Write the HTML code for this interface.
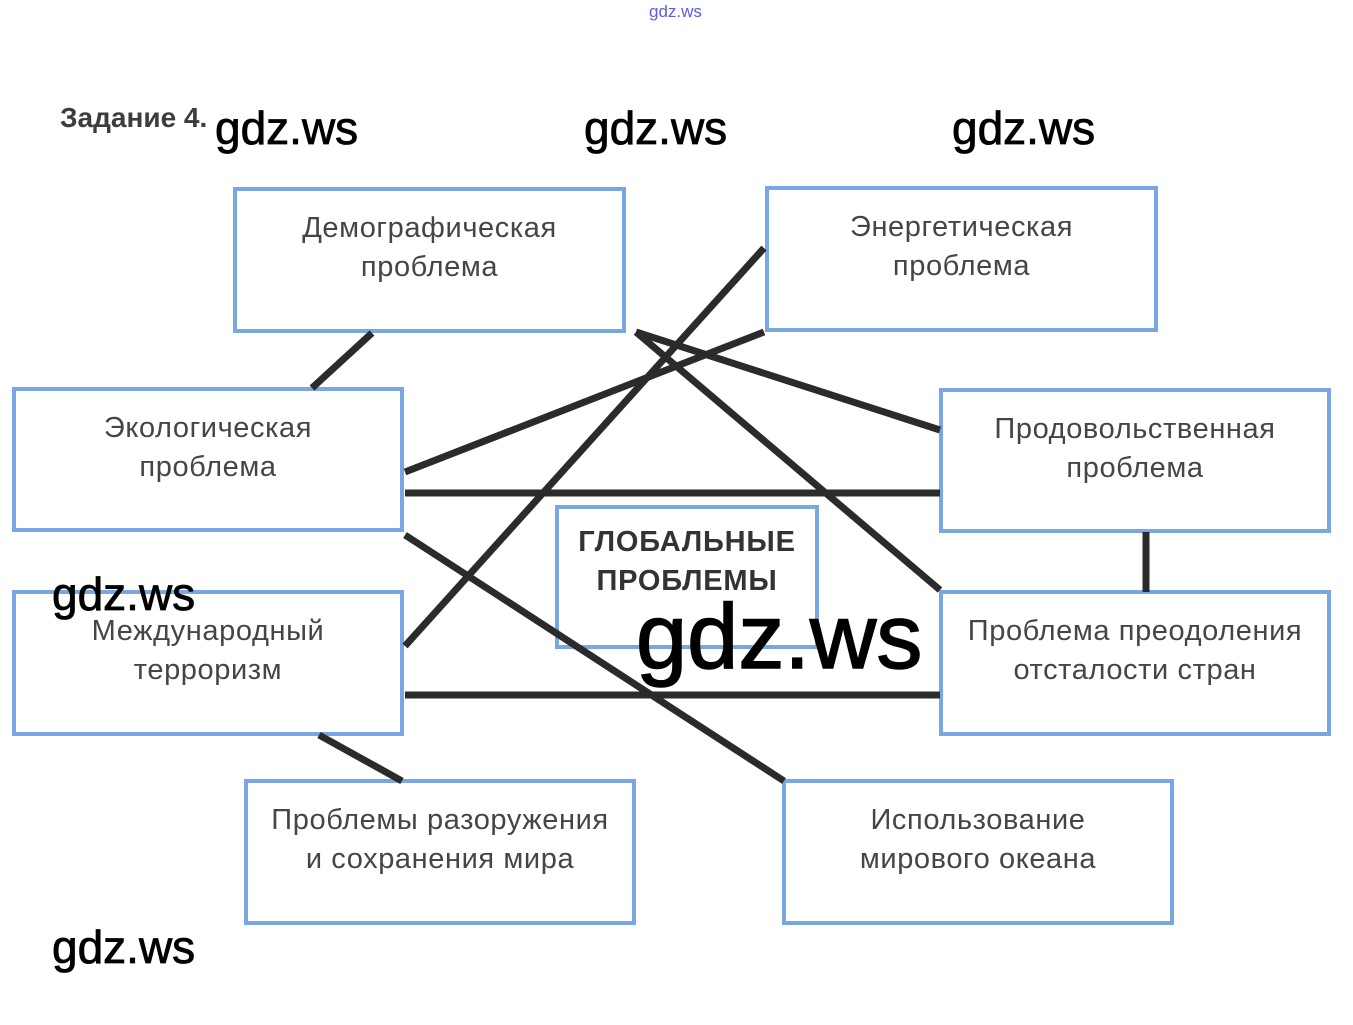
<!DOCTYPE html>
<html>
<head>
<meta charset="utf-8">
<style>
  html, body { margin:0; padding:0; }
  body { width:1353px; height:1025px; background:#fff; position:relative; overflow:hidden;
         font-family:"Liberation Sans", Arial, sans-serif; }
  .box { position:absolute; box-sizing:border-box; border:4px solid #7aa6e2; background:#fff; }
  .txt { position:absolute; left:0; right:0; top:18px; text-align:center; color:#454545;
         font-size:29px; line-height:39px; letter-spacing:0.6px; white-space:nowrap; }
  .wm { position:absolute; color:#000; font-family:"Liberation Sans", Arial, sans-serif; white-space:nowrap; line-height:1;
        -webkit-text-stroke:0.8px #000; }
  svg { position:absolute; left:0; top:0; }
</style>
</head>
<body>

<div class="wm" style="left:649px; top:3px; font-size:17px; color:#3f3fd8; opacity:0.85; -webkit-text-stroke:0;">gdz.ws</div>

<div style="position:absolute; left:60px; top:104px; font-size:28px; font-weight:bold; color:#3d3d3d; line-height:1; white-space:nowrap;">Задание 4.</div>

<div class="wm" style="left:215px; top:105px; font-size:46px;">gdz.ws</div>
<div class="wm" style="left:584px; top:105px; font-size:46px;">gdz.ws</div>
<div class="wm" style="left:952px; top:105px; font-size:46px;">gdz.ws</div>

<div class="box" style="left:233px; top:187px; width:393px; height:146px;"><div class="txt">Демографическая<br>проблема</div></div>
<div class="box" style="left:765px; top:186px; width:393px; height:146px;"><div class="txt">Энергетическая<br>проблема</div></div>
<div class="box" style="left:12px; top:387px; width:392px; height:145px;"><div class="txt">Экологическая<br>проблема</div></div>
<div class="box" style="left:939px; top:388px; width:392px; height:145px;"><div class="txt">Продовольственная<br>проблема</div></div>
<div class="box" style="left:555px; top:505px; width:264px; height:144px;"><div class="txt" style="top:14px; font-weight:bold; color:#333; letter-spacing:0.8px;">ГЛОБАЛЬНЫЕ<br>ПРОБЛЕМЫ</div></div>
<div class="box" style="left:12px; top:590px; width:392px; height:146px;"><div class="txt">Международный<br>терроризм</div></div>
<div class="box" style="left:939px; top:590px; width:392px; height:146px;"><div class="txt">Проблема преодоления<br>отсталости стран</div></div>
<div class="box" style="left:244px; top:779px; width:392px; height:146px;"><div class="txt">Проблемы разоружения<br>и сохранения мира</div></div>
<div class="box" style="left:782px; top:779px; width:392px; height:146px;"><div class="txt">Использование<br>мирового океана</div></div>

<svg width="1353" height="1025" viewBox="0 0 1353 1025">
  <g stroke="#2b2b2b" stroke-width="7" fill="none" stroke-linecap="butt">
    <line x1="372" y1="333" x2="312" y2="388"/>
    <line x1="636" y1="332" x2="940" y2="430"/>
    <line x1="636" y1="332" x2="940" y2="590"/>
    <line x1="764" y1="248" x2="405" y2="646"/>
    <line x1="764" y1="332" x2="405" y2="472"/>
    <line x1="405" y1="493" x2="940" y2="493"/>
    <line x1="405" y1="535" x2="784" y2="781"/>
    <line x1="405" y1="695" x2="940" y2="695"/>
    <line x1="319" y1="735" x2="402" y2="781"/>
    <line x1="1146" y1="532" x2="1146" y2="592"/>
  </g>
</svg>

<div class="wm" style="left:52px; top:571px; font-size:46px;">gdz.ws</div>
<div class="wm" style="left:52px; top:924px; font-size:46px;">gdz.ws</div>
<div class="wm" style="left:636px; top:591px; font-size:92px; -webkit-text-stroke:1.5px #000;">gdz.ws</div>

</body>
</html>
